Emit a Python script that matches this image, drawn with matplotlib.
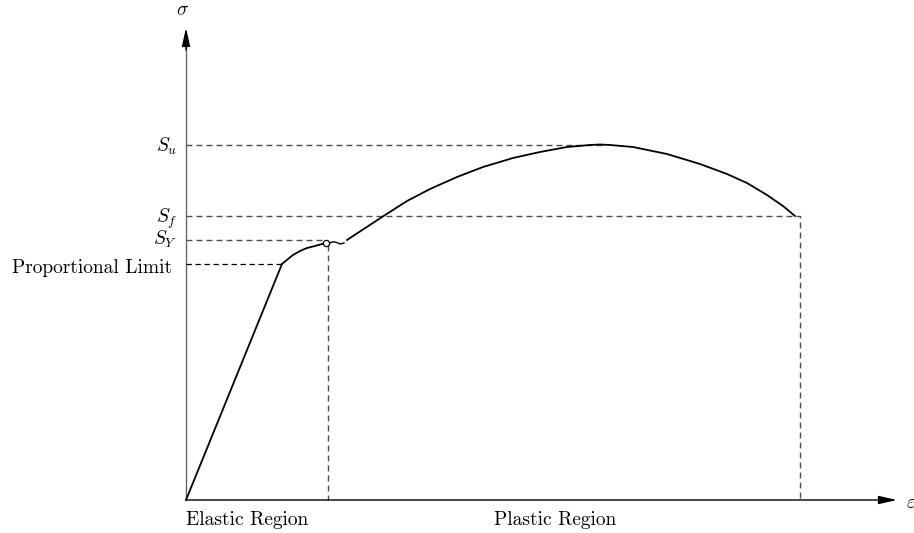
import numpy as np
import matplotlib
matplotlib.use("Agg")
import matplotlib.pyplot as plt

plt.rcParams['font.family'] = ['cmr10', 'DejaVu Serif']
plt.rcParams['mathtext.fontset'] = 'cm'
plt.rcParams['axes.unicode_minus'] = False

# stress-strain curve (arbitrary units)
elastic_strain = [0.00, 0.96]
elastic_stress = [0.00, 2.36]
yield_strain = [0.96, 1.02, 1.07, 1.14, 1.21, 1.29, 1.36, 1.40]
yield_stress = [2.36, 2.41, 2.45, 2.49, 2.52, 2.54, 2.56, 2.57]
wiggle_strain = [1.40, 1.44, 1.46, 1.49, 1.52, 1.54, 1.58]
wiggle_stress = [2.57, 2.57, 2.58, 2.58, 2.57, 2.56, 2.57]
plastic_strain = [1.61, 1.96, 2.21, 2.44, 2.71, 2.97, 3.27, 3.54, 3.81, 4.04,
                  4.14, 4.24, 4.47, 4.81, 5.14, 5.41, 5.61, 5.81, 5.97, 6.09]
plastic_stress = [2.60, 2.83, 2.99, 3.11, 3.23, 3.33, 3.42, 3.48, 3.53, 3.55,
                  3.555, 3.55, 3.53, 3.46, 3.36, 3.26, 3.17, 3.05, 2.94, 2.84]

S_u = 3.55
S_f = 2.84
S_Y = 2.60
prop_limit = 2.36
yield_point = (1.40, 2.57)
eps_yield = 1.42
eps_fracture = 6.14

fig = plt.figure(figsize=(9.14, 5.33), dpi=100)
ax = fig.add_axes([0, 0, 1, 1])
ax.set_xlim(-1.86, 7.28)
ax.set_ylim(-0.33, 5.00)
ax.axis('off')

# axes with arrows
ax.plot([0, 0], [0, 4.55], color='#666666', lw=1.0)
ax.annotate('', xy=(0, 4.72), xytext=(0, 4.50),
            arrowprops=dict(arrowstyle='-|>,head_length=1.1,head_width=0.25',
                            color='black', lw=1.0, shrinkA=0, shrinkB=0))
ax.annotate('', xy=(7.11, 0), xytext=(0, 0),
            arrowprops=dict(arrowstyle='-|>,head_length=1.1,head_width=0.25',
                            color='black', lw=1.0, shrinkA=0, shrinkB=0))

# guide lines
dash = dict(color='#4d4d4d', lw=1.0, dashes=(4.3, 2.9))
ax.plot([0, 4.19], [S_u, S_u], **dash)
ax.plot([0, eps_fracture, eps_fracture], [S_f, S_f, 0], **dash)
ax.plot([0, eps_yield - 0.02], [S_Y, S_Y], **dash)
ax.plot([eps_yield, eps_yield], [S_Y - 0.05, 0], **dash)
ax.plot([0, elastic_strain[1]], [prop_limit, prop_limit], color='black', lw=0.9, dashes=(4.3, 2.9))

# curve
curve = dict(color='black', lw=1.3, solid_joinstyle='round')
ax.plot(elastic_strain, elastic_stress, **curve)
ax.plot(yield_strain, yield_stress, **curve)
ax.plot(wiggle_strain, wiggle_stress, color='black', lw=1.0)
ax.plot(plastic_strain, plastic_stress, **curve)
ax.plot(*yield_point, marker='o', ms=4.5, mfc='white', mec='black', mew=0.9)

# labels
fs = 14
ax.text(-0.03, 4.85, r'$\sigma$', fontsize=fs, ha='center', va='baseline')
ax.text(7.20, -0.03, r'$\varepsilon$', fontsize=fs, ha='left', va='center')
ax.text(-0.09, 3.48, r'$S_u$', fontsize=fs, ha='right', va='baseline')
ax.text(-0.09, 2.77, r'$S_f$', fontsize=fs, ha='right', va='baseline')
ax.text(-0.09, 2.55, r'$S_Y$', fontsize=fs, ha='right', va='baseline')
ax.text(-0.14, 2.27, 'Proportional Limit', fontsize=fs, ha='right', va='baseline')
ax.text(0.0, -0.25, 'Elastic Region', fontsize=fs, ha='left', va='baseline')
ax.text(3.695, -0.25, 'Plastic Region', fontsize=fs, ha='center', va='baseline')

plt.savefig('out.png', dpi=100)
